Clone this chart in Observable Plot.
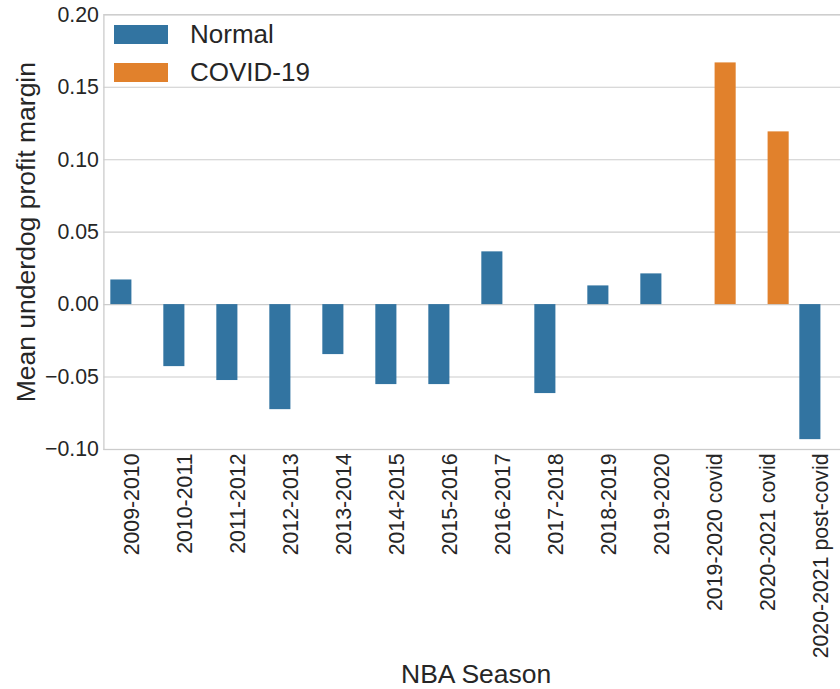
<!DOCTYPE html>
<html><head><meta charset="utf-8">
<script src="https://cdn.jsdelivr.net/npm/d3@7"></script>
<script src="https://cdn.jsdelivr.net/npm/@observablehq/plot@0.6"></script>
<style>
body{margin:0;background:#fff;}
#wrap{position:relative;width:840px;height:689px;overflow:hidden;font-family:"Liberation Sans",Arial,sans-serif;background:#fff;}
#wrap svg{max-width:none !important;width:848px !important;height:689px !important;}
.legend{position:absolute;left:114px;top:25px;color:#262626;font-size:26px;}
.row{display:flex;align-items:center;height:19px;margin-bottom:19px;white-space:nowrap;}
.sw{width:54px;height:19px;margin-right:22px;flex:none;}
</style></head>
<body><div id="wrap"></div>
<script>
const seasons = ["2009-2010","2010-2011","2011-2012","2012-2013","2013-2014","2014-2015","2015-2016","2016-2017","2017-2018","2018-2019","2019-2020","2019-2020 covid","2020-2021 covid","2020-2021 post-covid"];
const values = [0.017,-0.0428,-0.0524,-0.0725,-0.0345,-0.0552,-0.0552,0.0364,-0.0614,0.0129,0.0212,0.1668,0.1192,-0.0932];
const groups = ["Normal","Normal","Normal","Normal","Normal","Normal","Normal","Normal","Normal","Normal","Normal","COVID-19","COVID-19","Normal"];
const groupNames = ["Normal","COVID-19"];
const groupColors = ["#3274a1","#e1812c"];
const yTicks = [-0.10,-0.05,0,0.05,0.10,0.15,0.20];
const yLabel = "Mean underdog profit margin";
const xLabel = "NBA Season";

const data = seasons.map((s,i)=>({season:s, value:values[i], group:groups[i]}));
const W = 848, ML = 103.4;
const bw = (W - ML) / seasons.length;
const ink = "#262626";

const chart = Plot.plot({
  width: W, height: 689,
  marginLeft: ML, marginRight: 0, marginTop: 14.3, marginBottom: 240,
  style: {fontFamily: '"Liberation Sans", Arial, sans-serif', color: ink, background: "#fff"},
  x: {domain: seasons, padding: 0},
  y: {domain: [-0.10, 0.20]},
  color: {domain: groupNames, range: groupColors},
  marks: [
    Plot.gridY(yTicks, {stroke: "#cccccc", strokeOpacity: 1, strokeWidth: 1.1}),
    Plot.frame({stroke: "#cccccc", strokeWidth: 1.3}),
    Plot.barY(data.filter(d => d.group === "Normal"), {x: "season", y: "value", fill: d => d.group, insetLeft: 0.1*bw, insetRight: 0.5*bw}),
    Plot.barY(data.filter(d => d.group === "COVID-19"), {x: "season", y: "value", fill: d => d.group, insetLeft: 0.5*bw, insetRight: 0.1*bw}),
    Plot.axisY(yTicks, {tickSize: 0, tickPadding: 5, fontSize: 21.3, tickFormat: d3.format(".2f"), label: null, fill: ink}),
    Plot.axisX({tickSize: 0, tickPadding: 4, tickRotate: -90, fontSize: 21.3, label: null, fill: ink}),
    Plot.text([yLabel], {text: d => d, frameAnchor: "left", textAnchor: "middle", lineAnchor: "middle", rotate: -90, dx: -77.7, fontSize: 26.5, fill: ink}),
    Plot.text([xLabel], {text: d => d, frameAnchor: "bottom", textAnchor: "middle", lineAnchor: "middle", dy: 225.5, fontSize: 26.5, fill: ink})
  ]
});
const wrap = document.getElementById("wrap");
wrap.appendChild(chart);

const legend = document.createElement("div");
legend.className = "legend";
groupNames.forEach((g, i) => {
  const row = document.createElement("div");
  row.className = "row";
  const sw = document.createElement("div");
  sw.className = "sw";
  sw.style.background = groupColors[i];
  const t = document.createElement("span");
  t.textContent = g;
  row.appendChild(sw); row.appendChild(t);
  legend.appendChild(row);
});
wrap.appendChild(legend);
</script>
</body></html>
